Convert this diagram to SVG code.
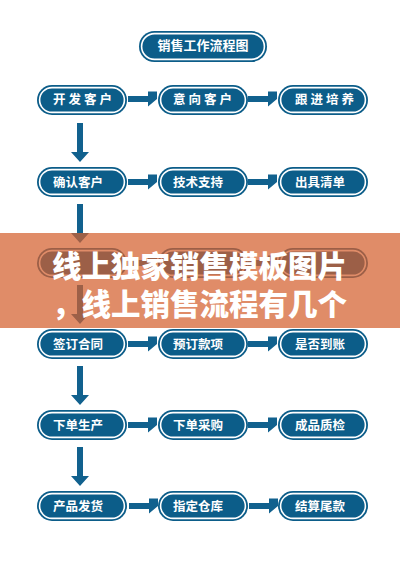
<svg xmlns="http://www.w3.org/2000/svg" width="400" height="565" viewBox="0 0 400 565">
<defs>
<style>
.outer{fill:#0C5D89;}
.inner{fill:#0C5D89;stroke:#FFFFFF;stroke-width:1.6;}
.lbl{font-family:"Noto Sans CJK SC","Noto Sans",sans-serif;font-weight:700;font-size:12.5px;fill:#FFFFFF;}
.sp{letter-spacing:3px;}
.arr{fill:#11618E;}
.ban{font-family:"Noto Sans CJK SC","Noto Sans",sans-serif;font-weight:900;font-size:29.5px;fill:#FFFFFF;}
</style>
<symbol id="pill" viewBox="0 0 90 30" width="90" height="30" overflow="visible">
<rect class="outer" x="0" y="0" width="90" height="30" rx="15"/>
<rect class="inner" x="2.6" y="2.6" width="84.8" height="24.8" rx="12.4"/>
</symbol>
<path id="ha" d="M0,-3 H20 V-7.5 H29 L29,0 V0 L20,7.5 V3 H0 Z"/>
<path id="va" d="M-3,0 H3 V29 H9 L0,39 L-9,29 H-3 Z"/>
</defs>
<rect width="400" height="565" fill="#FFFFFF"/>

<g id="title">
<rect class="outer" x="139" y="31" width="128" height="31" rx="15.5"/>
<rect class="inner" x="141.6" y="33.6" width="122.8" height="25.8" rx="12.9"/>
<text class="lbl" x="203" y="49.5" text-anchor="middle" style="font-size:13px">销售工作流程图</text>
</g>

<g id="connectors">
<use href="#ha" class="arr" x="128" y="99"/>
<use href="#ha" class="arr" x="248" y="99"/>
<use href="#va" class="arr" x="80" y="123"/>
<use href="#ha" class="arr" x="128" y="182"/>
<use href="#ha" class="arr" x="248" y="182"/>
<use href="#va" class="arr" x="80" y="204"/>
<use href="#ha" class="arr" x="128" y="263"/>
<use href="#ha" class="arr" x="248" y="263"/>
<use href="#va" class="arr" x="80" y="285"/>
<use href="#ha" class="arr" x="128" y="344"/>
<use href="#ha" class="arr" x="248" y="344"/>
<use href="#va" class="arr" x="80" y="366"/>
<use href="#ha" class="arr" x="128" y="425"/>
<use href="#ha" class="arr" x="248" y="425"/>
<use href="#va" class="arr" x="80" y="447"/>
<use href="#ha" class="arr" x="129" y="506"/>
<use href="#ha" class="arr" x="249" y="506"/>
</g>

<g id="n1"><use href="#pill" x="37" y="85"/><text class="lbl sp" x="53" y="104">开发客户</text></g>
<g id="n2"><use href="#pill" x="158" y="85"/><text class="lbl sp" x="173" y="104">意向客户</text></g>
<g id="n3"><use href="#pill" x="278" y="85"/><text class="lbl sp" x="295" y="104">跟进培养</text></g>

<g id="n4"><use href="#pill" x="37" y="167"/><text class="lbl" x="53" y="186.5">确认客户</text></g>
<g id="n5"><use href="#pill" x="158" y="167"/><text class="lbl" x="173" y="186.5">技术支持</text></g>
<g id="n6"><use href="#pill" x="278" y="167"/><text class="lbl" x="295" y="186.5">出具清单</text></g>

<g id="n7"><use href="#pill" x="37" y="248"/></g>
<g id="n8"><use href="#pill" x="158" y="248"/></g>
<g id="n9"><use href="#pill" x="278" y="248"/></g>

<g id="n10"><use href="#pill" x="37" y="329"/><text class="lbl" x="53" y="348.5">签订合同</text></g>
<g id="n11"><use href="#pill" x="158" y="329"/><text class="lbl" x="173" y="348.5">预订款项</text></g>
<g id="n12"><use href="#pill" x="278" y="329"/><text class="lbl" x="295" y="348.5">是否到账</text></g>

<g id="n13"><use href="#pill" x="37" y="410"/><text class="lbl" x="53" y="429.5">下单生产</text></g>
<g id="n14"><use href="#pill" x="158" y="410"/><text class="lbl" x="173" y="429.5">下单采购</text></g>
<g id="n15"><use href="#pill" x="278" y="410"/><text class="lbl" x="295" y="429.5">成品质检</text></g>

<g id="n16"><use href="#pill" x="37" y="491"/><text class="lbl" x="53" y="510.5">产品发货</text></g>
<g id="n17"><use href="#pill" x="158" y="491"/><text class="lbl" x="173" y="510.5">指定仓库</text></g>
<g id="n18"><use href="#pill" x="278" y="491"/><text class="lbl" x="295" y="510.5">结算尾款</text></g>

<g id="banner">
<rect x="0" y="233" width="400" height="95" fill="#D4602E" fill-opacity="0.72"/>
<text class="ban" x="52" y="277">线上独家销售模板图片</text>
<text class="ban" x="52" y="315">，线上销售流程有几个</text>
</g>
</svg>
